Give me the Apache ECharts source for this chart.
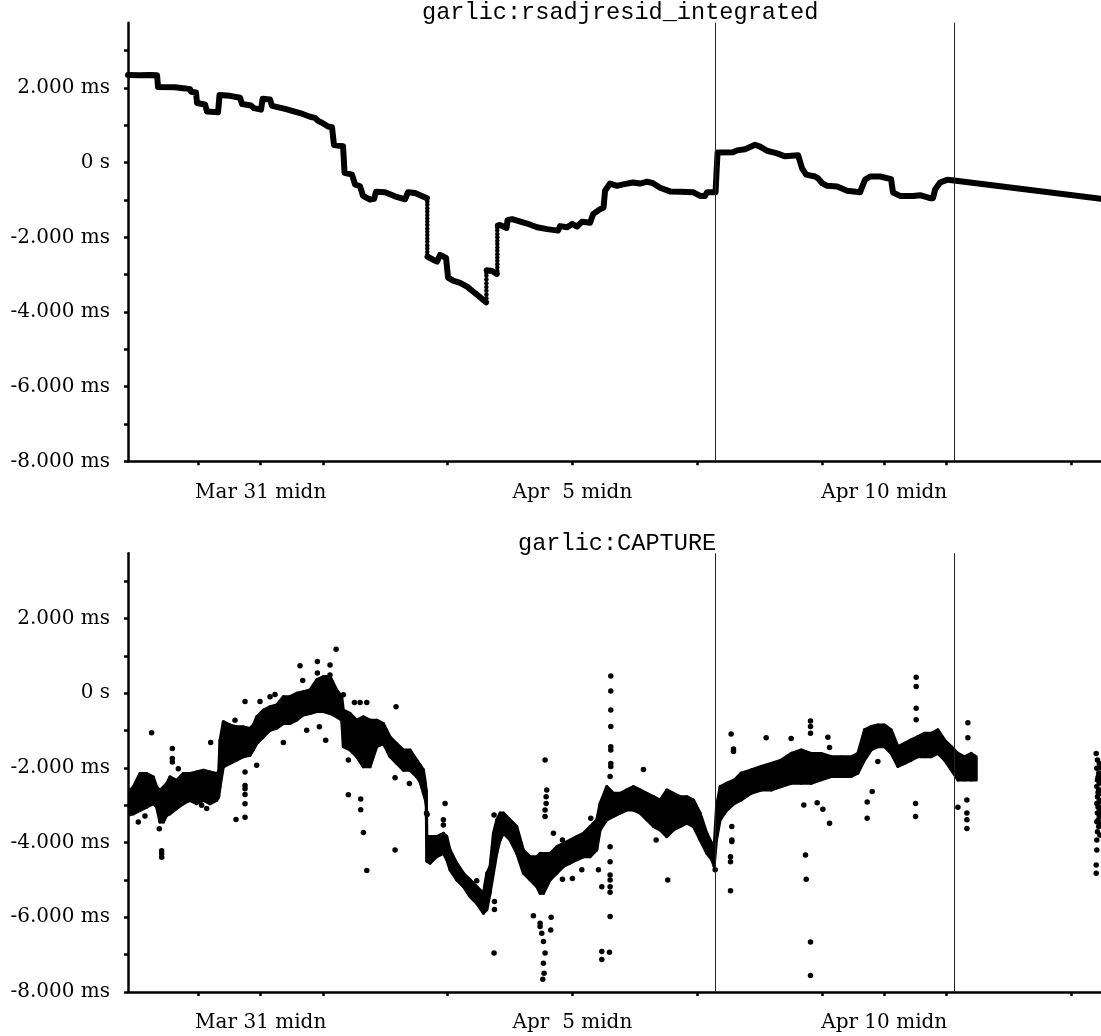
<!DOCTYPE html>
<html><head><meta charset="utf-8">
<script src="https://cdn.jsdelivr.net/npm/echarts@6/dist/echarts.min.js"></script>
<style>html,body{margin:0;padding:0;background:#fff}#c{width:1101px;height:1036px}</style>
</head><body><div id="c"></div>
<script>
// x values are days since Mar 28 00:00 (Mar 30 = 2, Apr 5 = 8, Apr 10 = 13)
const X_MIN = 0.872, X_MAX = 16.477;
const Y_MIN = -8, Y_MAX = 3.75;
const tickDays = [2, 3, 4, 6, 8, 10, 12, 13, 14, 16];
const labelDays = [3, 8, 13];
const labelText = {3: 'Mar 31 midn', 8: 'Apr  5 midn', 13: 'Apr 10 midn'};
const yTicks = [-8, -7, -6, -5, -4, -3, -2, -1, 0, 1, 2, 3];
const yLabels = [-8, -6, -4, -2, 0, 2];
const markerDays = [10.287, 14.120];
const titles = ['garlic:rsadjresid_integrated', 'garlic:CAPTURE'];

// top panel: rsadjresid_integrated (ms); null = break in the trace
const intT = [0.872,1.065,1.225,1.338,1.354,1.626,1.787,1.867,1.883,1.963,1.979,2.107,2.140,2.316,2.340,2.508,2.669,2.701,2.845,2.893,3.006,3.030,3.150,3.182,3.391,3.631,3.792,3.872,3.920,3.984,4.080,4.144,4.176,4.321,4.345,4.465,4.513,4.593,4.641,4.754,4.818,4.850,4.994,5.154,5.315,5.363,5.475,5.668,5.670,
  5.676,5.764,5.829,5.861,5.877,5.973,6.005,6.085,6.198,6.310,6.406,6.502,6.615,6.618,
  6.624,6.710,6.787,6.790,
  6.804,6.839,6.943,6.959,7.031,7.272,7.432,7.593,7.769,7.801,7.914,7.994,8.074,8.155,8.283,8.331,8.439,8.499,8.523,8.603,8.715,8.812,8.972,9.084,9.197,9.293,9.405,9.565,9.726,9.934,10.047,10.127,10.159,10.295,10.327,10.576,10.640,10.768,10.929,11.009,11.121,11.282,11.410,11.619,11.683,11.748,11.892,11.940,12.005,12.085,12.245,12.406,12.614,12.646,12.695,12.775,12.935,13.110,13.141,13.254,13.462,13.575,13.735,13.783,13.816,13.896,14.008,14.120,16.477];
const intV = [2.35,2.34,2.35,2.34,2.03,2.02,1.99,1.97,1.90,1.88,1.60,1.56,1.37,1.35,1.81,1.79,1.74,1.57,1.53,1.46,1.42,1.71,1.69,1.52,1.44,1.33,1.23,1.20,1.12,1.07,0.97,0.95,0.47,0.44,-0.27,-0.32,-0.58,-0.63,-0.89,-0.99,-0.97,-0.78,-0.79,-0.90,-0.98,-0.79,-0.81,-0.95,null,
  -2.52,-2.60,-2.65,-2.62,-2.47,-2.55,-3.08,-3.16,-3.22,-3.32,-3.45,-3.58,-3.74,null,
  -2.88,-2.90,-2.98,null,
  -1.68,-1.67,-1.75,-1.54,-1.51,-1.63,-1.73,-1.78,-1.82,-1.70,-1.73,-1.64,-1.71,-1.58,-1.61,-1.38,-1.25,-1.20,-0.75,-0.56,-0.62,-0.58,-0.53,-0.56,-0.51,-0.55,-0.67,-0.77,-0.78,-0.79,-0.89,-0.89,-0.79,-0.79,0.27,0.28,0.33,0.36,0.48,0.43,0.32,0.25,0.17,0.20,-0.15,-0.32,-0.37,-0.42,-0.55,-0.62,-0.64,-0.75,-0.79,-0.65,-0.45,-0.37,-0.37,-0.44,-0.80,-0.89,-0.89,-0.87,-0.95,-0.95,-0.72,-0.53,-0.46,-0.48,-0.97];

// top panel: sparse samples during fast transitions
const dotT = [5.672,5.672,5.672,5.672,5.672,5.672,5.672,5.672,5.672,5.672,5.672,5.672,5.672,5.672,5.672,5.672,5.672,
  6.620,6.620,6.620,6.620,6.620,6.620,6.620,6.620,
  6.795,6.795,6.795,6.795,6.795,6.795,6.795,6.795,6.795,6.795,6.795,6.795,6.795,6.795];
const dotV = [-1.04,-1.13,-1.22,-1.31,-1.40,-1.49,-1.58,-1.67,-1.76,-1.85,-1.94,-2.03,-2.12,-2.21,-2.30,-2.39,-2.47,
  -3.63,-3.53,-3.43,-3.33,-3.23,-3.13,-3.03,-2.95,
  -2.90,-2.81,-2.72,-2.63,-2.54,-2.45,-2.36,-2.27,-2.18,-2.09,-2.00,-1.91,-1.82,-1.74];

// bottom panel: dense CAPTURE cloud, lower and upper edge (ms)
const capT = [0.872,0.957,1.064,1.171,1.278,1.332,1.385,1.439,1.492,1.545,1.652,1.759,1.866,1.973,2.080,2.187,2.294,2.326,2.348,2.401,2.508,2.615,2.722,2.829,2.882,2.936,3.043,3.150,3.257,3.364,3.471,3.578,3.684,3.791,3.898,4.005,4.112,4.219,4.299,4.326,4.433,4.540,4.647,4.754,4.861,4.968,5.075,5.182,5.289,5.396,5.503,5.556,5.610,5.642,5.655,5.665,5.717,5.824,5.930,5.984,6.037,6.144,6.251,6.358,6.465,6.572,6.626,6.679,6.733,6.786,6.840,6.893,7.000,7.107,7.214,7.321,7.428,7.481,7.535,7.642,7.749,7.856,7.963,8.070,8.176,8.283,8.390,8.444,8.551,8.658,8.765,8.872,8.979,9.086,9.193,9.299,9.406,9.513,9.620,9.727,9.834,9.941,10.048,10.155,10.235,10.273,10.310,10.369,10.476,10.599,10.706,10.866,11.027,11.187,11.348,11.508,11.668,11.829,11.989,12.150,12.310,12.471,12.578,12.684,12.791,12.898,13.005,13.112,13.219,13.326,13.433,13.540,13.647,13.754,13.861,13.968,14.075,14.182,14.289,14.396,14.476];
const capLo = [-3.27,-3.23,-3.14,-3.05,-2.96,-3.05,-3.45,-3.45,-3.27,-3.23,-3.09,-2.96,-2.87,-2.96,-2.87,-2.96,-2.87,-2.78,-2.51,-1.97,-1.88,-1.79,-1.70,-1.66,-1.52,-1.35,-1.17,-0.99,-0.94,-0.81,-0.81,-0.72,-0.58,-0.54,-0.49,-0.49,-0.54,-0.63,-0.72,-1.43,-1.52,-1.70,-1.97,-1.97,-1.43,-1.35,-1.70,-1.88,-2.06,-2.06,-2.24,-2.37,-2.68,-2.86,-3.00,-4.50,-4.55,-4.38,-4.29,-4.46,-4.73,-5.00,-5.18,-5.45,-5.63,-5.89,-5.80,-5.36,-4.82,-4.29,-3.93,-3.75,-3.93,-4.29,-4.82,-5.00,-5.18,-5.36,-5.36,-5.00,-4.82,-4.64,-4.55,-4.46,-4.38,-4.38,-4.20,-3.66,-3.39,-3.30,-3.21,-3.13,-3.13,-3.21,-3.39,-3.57,-3.66,-3.84,-3.66,-3.57,-3.48,-3.57,-3.93,-4.29,-4.46,-4.64,-3.93,-3.39,-3.13,-2.95,-2.86,-2.68,-2.59,-2.59,-2.50,-2.41,-2.41,-2.41,-2.32,-2.23,-2.23,-2.23,-2.14,-1.79,-1.52,-1.43,-1.43,-1.61,-1.96,-1.88,-1.79,-1.70,-1.70,-1.70,-1.61,-1.79,-2.05,-2.32,-2.32,-2.32,-2.32];
const capHi = [-2.65,-2.51,-2.15,-2.15,-2.24,-2.51,-2.60,-2.51,-2.42,-2.24,-2.33,-2.15,-2.15,-2.11,-2.06,-2.11,-2.15,-2.11,-1.26,-0.76,-0.85,-0.90,-0.90,-0.94,-0.85,-0.63,-0.45,-0.36,-0.31,-0.09,-0.09,0.00,0.04,0.09,0.36,0.45,0.45,0.09,-0.09,-0.45,-0.54,-0.72,-0.63,-0.72,-0.72,-0.81,-1.17,-1.35,-1.52,-1.52,-1.79,-1.92,-2.05,-2.41,-2.60,-3.84,-3.84,-3.84,-3.75,-3.84,-4.20,-4.55,-4.82,-5.00,-5.18,-5.36,-4.82,-4.64,-3.75,-3.39,-3.21,-3.21,-3.39,-3.57,-4.20,-4.38,-4.38,-4.29,-4.29,-4.29,-4.11,-4.02,-3.93,-3.84,-3.75,-3.57,-3.39,-2.95,-2.50,-2.68,-2.68,-2.59,-2.50,-2.59,-2.68,-2.77,-2.86,-2.59,-2.68,-2.77,-2.77,-2.86,-3.21,-3.75,-4.02,-4.11,-3.04,-2.50,-2.41,-2.32,-2.14,-2.05,-1.96,-1.88,-1.79,-1.61,-1.52,-1.61,-1.61,-1.70,-1.70,-1.70,-1.61,-0.98,-0.89,-0.85,-0.85,-0.98,-1.43,-1.34,-1.25,-1.16,-1.07,-1.07,-0.98,-1.25,-1.43,-1.61,-1.70,-1.61,-1.70];

// bottom panel: individual samples outside the dense cloud
const outT = [1.251,1.037,1.144,1.374,1.412,1.412,1.412,1.583,1.583,1.583,1.679,2.198,2.053,2.134,2.604,2.749,2.749,2.749,2.749,2.749,2.749,2.749,2.588,2.936,2.989,3.150,3.230,3.364,3.631,3.674,3.909,3.909,4.112,4.112,4.209,3.738,3.941,4.043,4.326,4.406,4.406,4.503,4.594,4.701,4.604,4.604,4.647,4.701,5.171,5.155,5.155,5.385,
  5.660,5.668,5.957,5.930,5.930,6.743,6.465,6.749,6.749,6.743,7.561,7.588,7.578,7.578,7.561,7.561,7.374,7.481,7.481,7.508,7.535,7.561,7.535,7.545,7.524,7.658,7.652,7.695,7.840,7.840,8.000,8.150,8.615,8.615,8.615,8.615,8.615,8.615,8.615,8.615,8.604,8.604,8.604,8.604,8.604,8.604,8.604,8.604,8.471,8.471,8.594,8.294,8.417,8.471,9.139,9.529,9.342,10.289,
  10.545,10.583,10.583,10.556,10.556,10.556,10.535,10.535,10.535,11.107,11.508,11.818,11.818,11.818,11.738,11.749,11.818,11.818,11.711,11.925,12.016,12.123,12.096,12.123,12.727,12.727,12.807,13.513,13.513,13.513,13.513,13.503,13.503,12.898,14.342,14.342,14.326,14.326,14.326,14.326,14.182,
  16.40,16.42,16.45,16.41,16.44,16.46,16.42,16.45,16.41,16.44,16.46,16.42,16.45,16.41,16.44,16.46,16.42,16.45,16.41,16.44,16.42,16.41,16.41,16.40,16.40,16.46,16.47,16.47,16.47,16.47,16.47,16.46,16.43,16.43,16.43,16.43];
const outV = [-1.06,-3.45,-3.29,-3.63,-4.22,-4.30,-4.39,-1.48,-1.75,-1.84,-2.02,-1.32,-3.00,-3.09,-3.38,-0.22,-2.11,-2.47,-2.56,-2.71,-2.96,-3.32,-0.72,-1.93,-0.22,-0.09,-0.03,-1.32,0.74,0.34,0.85,0.54,0.76,0.49,1.18,-0.99,-0.90,-1.26,-0.04,-1.79,-2.72,-0.25,-0.25,-0.25,-2.83,-3.12,-3.73,-4.75,-0.36,-2.26,-4.20,-2.42,
  -3.21,-3.25,-2.95,-3.39,-3.53,-6.96,-5.02,-5.58,-5.79,-3.26,-1.79,-2.59,-2.77,-2.95,-3.13,-3.30,-5.96,-6.16,-6.25,-6.43,-6.65,-6.96,-7.23,-7.50,-7.66,-6.00,-6.34,-3.75,-3.93,-4.98,-4.96,-4.73,0.46,0.06,-0.45,-0.89,-1.43,-1.52,-1.88,-1.96,-2.23,-4.11,-4.51,-4.87,-5.00,-5.18,-5.33,-5.98,-6.92,-7.13,-6.94,-3.35,-4.73,-5.18,-2.04,-5.00,-3.93,-4.73,
  -1.09,-1.49,-1.56,-3.57,-3.93,-3.97,-4.38,-4.51,-5.29,-1.19,-1.21,-0.74,-0.89,-1.07,-4.33,-4.98,-6.66,-7.56,-2.99,-2.93,-3.11,-3.48,-1.18,-1.45,-2.91,-3.35,-2.63,0.43,0.18,-0.40,-0.71,-2.95,-3.30,-1.83,-0.79,-1.19,-2.86,-3.21,-3.39,-3.62,-3.05,
  -1.61,-1.79,-1.88,-2.01,-2.14,-2.23,-2.32,-2.41,-2.50,-2.59,-2.68,-2.77,-2.86,-2.95,-3.04,-3.13,-3.21,-3.30,-3.44,-3.57,-3.71,-3.93,-4.20,-4.60,-4.82,-2.00,-2.30,-2.60,-2.90,-3.20,-3.50,-3.80,-2.25,-2.65,-3.05,-3.40];

const LABEL_FONT = 'DejaVu Serif';
const TITLE_FONT = 'Liberation Mono';

function xAxisFor(gi) {
  return {
    type: 'value', gridIndex: gi, min: X_MIN, max: X_MAX,
    axisLine: {show: true, onZero: false, lineStyle: {color: '#000', width: 2.5}},
    axisTick: {show: true, customValues: tickDays, length: 4, lineStyle: {color: '#000', width: 2.5}},
    axisLabel: {show: true, customValues: labelDays, margin: 21, color: '#000',
      fontFamily: LABEL_FONT, fontSize: 20, formatter: v => labelText[Math.round(v)] || ''},
    splitLine: {show: false}
  };
}
function yAxisFor(gi) {
  return {
    type: 'value', gridIndex: gi, min: Y_MIN, max: Y_MAX,
    axisLine: {show: true, onZero: false, lineStyle: {color: '#000', width: 2.5}},
    axisTick: {show: true, customValues: yTicks, length: 4, lineStyle: {color: '#000', width: 2.5}},
    axisLabel: {show: true, customValues: yLabels, margin: 18, color: '#000',
      fontFamily: LABEL_FONT, fontSize: 20,
      formatter: v => v === 0 ? '0 s' : (Math.round(v) + '.000 ms')},
    splitLine: {show: false}
  };
}
const markLine = {
  silent: true, symbol: ['none', 'none'], label: {show: false}, animation: false,
  lineStyle: {color: '#222', width: 1, type: 'solid'},
  data: markerDays.map(d => ({xAxis: d}))
};

const intData = intT.map((t, i) => intV[i] === null ? '-' : [t, intV[i]]);
const dotData = dotT.map((t, i) => [t, dotV[i]]);
const capData = capT.map((t, i) => [t, capLo[i], capHi[i]]);
const outData = outT.map((t, i) => [t, outV[i]]);

const chart = echarts.init(document.getElementById('c'), null, {renderer: 'canvas'});
chart.setOption({
  animation: false,
  backgroundColor: '#fff',
  title: [
    {text: titles[0], left: 422, top: 1, textStyle: {fontFamily: TITLE_FONT, fontSize: 23.6, fontWeight: 'normal', color: '#000'}, padding: 0},
    {text: titles[1], left: 518, top: 532, textStyle: {fontFamily: TITLE_FONT, fontSize: 23.6, fontWeight: 'normal', color: '#000'}, padding: 0}
  ],
  grid: [
    {left: 128, top: 22.7, width: 973, height: 438.6, outerBoundsMode: 'none'},
    {left: 128, top: 553.3, width: 973, height: 438.6, outerBoundsMode: 'none'}
  ],
  xAxis: [xAxisFor(0), xAxisFor(1)],
  yAxis: [yAxisFor(0), yAxisFor(1)],
  series: [
    {name: 'rsadjresid_integrated', type: 'line', xAxisIndex: 0, yAxisIndex: 0, data: intData,
      showSymbol: false, connectNulls: false, clip: true,
      lineStyle: {color: '#000', width: 6, cap: 'round', join: 'round'}, markLine: markLine},
    {name: 'rsadjresid_integrated samples', type: 'scatter', xAxisIndex: 0, yAxisIndex: 0, data: dotData,
      symbolSize: 4.5, itemStyle: {color: '#000', opacity: 1}},
    {name: 'CAPTURE cloud', type: 'custom', xAxisIndex: 1, yAxisIndex: 1, data: capData, clip: true,
      encode: {x: 0, y: [1, 2]},
      renderItem: function (params, api) {
        const i = params.dataIndex;
        if (i >= capT.length - 1) return null;
        const pts = [
          api.coord([capT[i], capHi[i]]), api.coord([capT[i + 1], capHi[i + 1]]),
          api.coord([capT[i + 1], capLo[i + 1]]), api.coord([capT[i], capLo[i]])
        ];
        return {type: 'polygon', shape: {points: pts},
          style: {fill: '#000', stroke: '#000', lineWidth: 3, lineJoin: 'round'}};
      }},
    {name: 'CAPTURE', type: 'scatter', xAxisIndex: 1, yAxisIndex: 1, data: outData,
      symbolSize: 5.5, itemStyle: {color: '#000', opacity: 1}, markLine: markLine}
  ]
});
</script></body></html>
